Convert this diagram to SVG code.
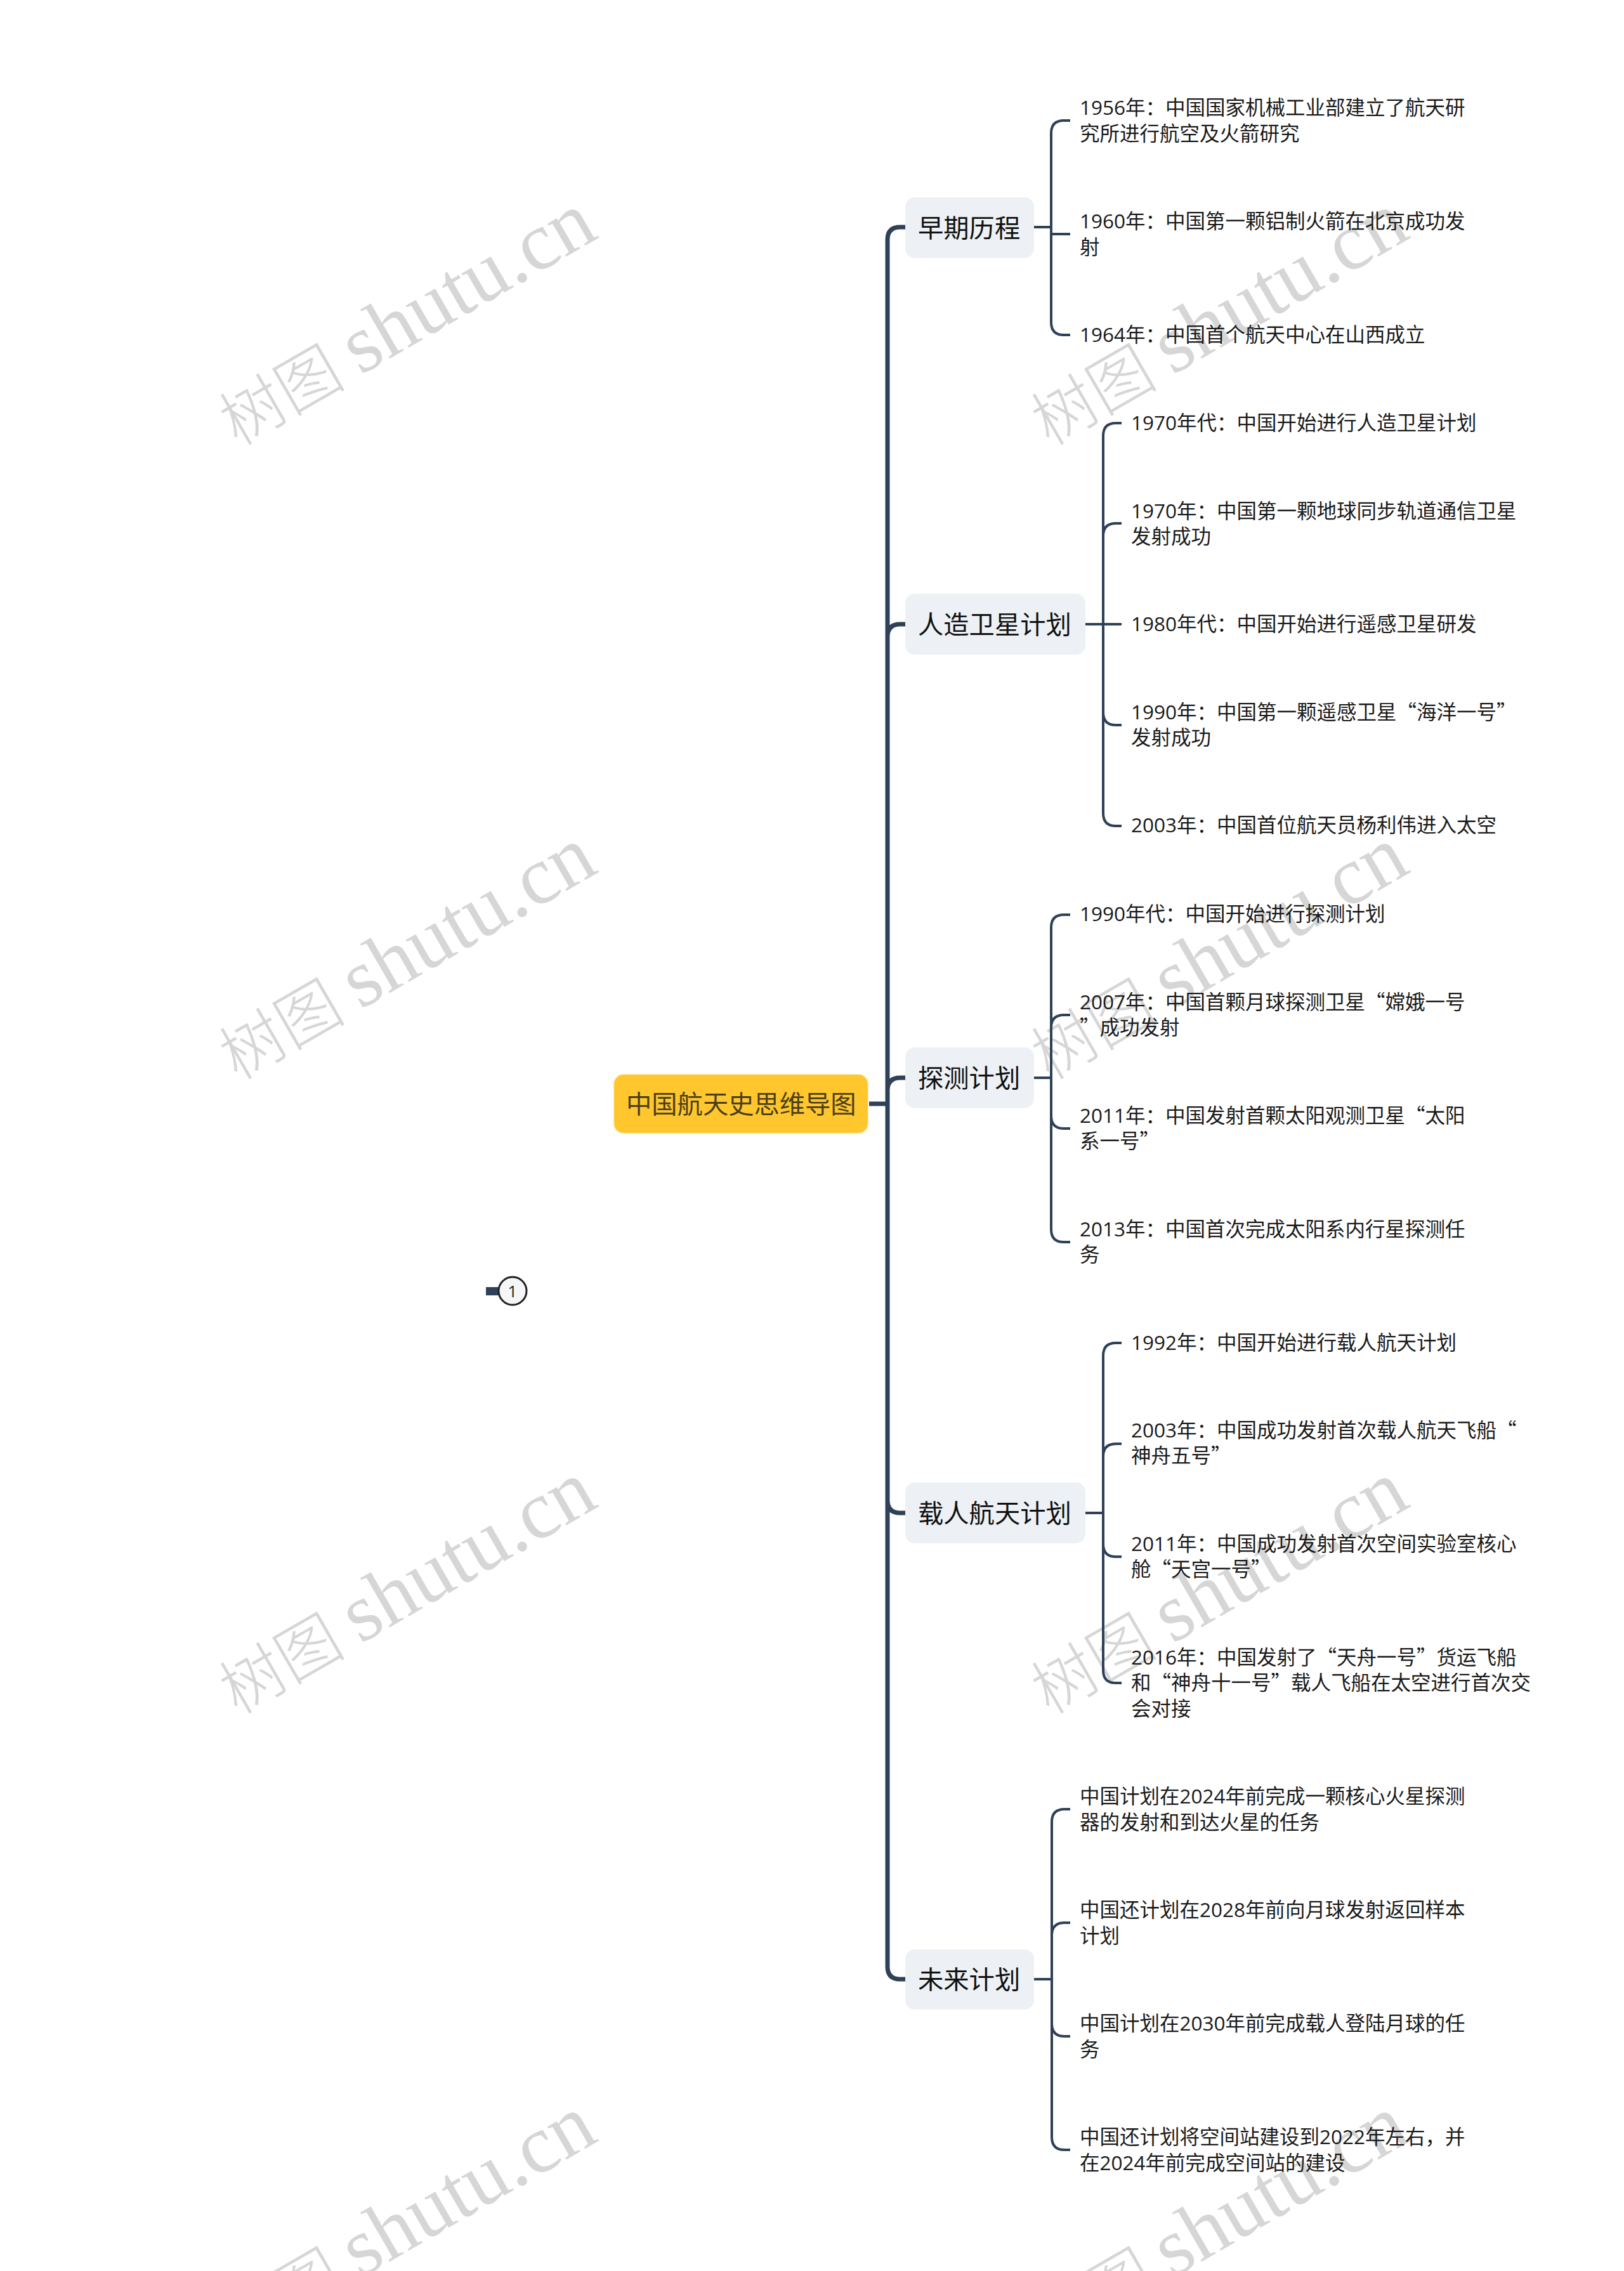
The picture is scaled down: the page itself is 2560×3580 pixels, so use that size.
<svg xmlns="http://www.w3.org/2000/svg" width="2560" height="3580" viewBox="0 0 2560 3580">
<style>
text{font-family:"Open Sans","Noto Sans CJK SC",sans-serif}
.wm{font-family:"Liberation Serif","Noto Sans CJK SC",serif;font-size:130px;fill:#d6d6d6}
.wc{font-family:"Noto Sans CJK SC",serif;font-size:100px;font-weight:300}
.q{font-family:"Noto Sans CJK SC",sans-serif}
.leaf{font-size:31.5px;fill:#1a1a1a}
.br{font-size:40.3px;fill:#111}
.brn{fill:#edf1f5}
.c{fill:none;stroke:#2f4159}
.t{stroke-width:7}
.s{stroke-width:4}
</style>
<rect width="2560" height="3580" fill="#fff"/>
<g id="watermarks">
<text class="wm" transform="translate(374 704) rotate(-30)"><tspan class="wc">树图</tspan><tspan dx="24">shutu.cn</tspan></text>
<text class="wm" transform="translate(374 1704) rotate(-30)"><tspan class="wc">树图</tspan><tspan dx="24">shutu.cn</tspan></text>
<text class="wm" transform="translate(374 2704) rotate(-30)"><tspan class="wc">树图</tspan><tspan dx="24">shutu.cn</tspan></text>
<text class="wm" transform="translate(374 3704) rotate(-30)"><tspan class="wc">树图</tspan><tspan dx="24">shutu.cn</tspan></text>
<text class="wm" transform="translate(1654 704) rotate(-30)"><tspan class="wc">树图</tspan><tspan dx="24">shutu.cn</tspan></text>
<text class="wm" transform="translate(1654 1704) rotate(-30)"><tspan class="wc">树图</tspan><tspan dx="24">shutu.cn</tspan></text>
<text class="wm" transform="translate(1654 2704) rotate(-30)"><tspan class="wc">树图</tspan><tspan dx="24">shutu.cn</tspan></text>
<text class="wm" transform="translate(1654 3704) rotate(-30)"><tspan class="wc">树图</tspan><tspan dx="24">shutu.cn</tspan></text>
</g>
<g id="connectors">
<path class="c t" d="M1368 1740H1399M1427 358H1419Q1399 358 1399 378V3100Q1399 3120 1419 3120H1427M1399 1004Q1399 984 1419 984H1427M1399 1719Q1399 1699 1419 1699H1427M1399 2365Q1399 2385 1419 2385H1427"/>
<path class="c s" d="M1630 358H1657M1687 190H1677Q1657 190 1657 210V508Q1657 528 1677 528H1687M1657 369H1687"/>
<path class="c s" d="M1710 984H1739M1768 667H1759Q1739 667 1739 687V1282Q1739 1302 1759 1302H1768M1739 845Q1739 825 1759 825H1768M1739 984H1768M1739 1123Q1739 1143 1759 1143H1768"/>
<path class="c s" d="M1630 1699H1657M1687 1442H1677Q1657 1442 1657 1462V1938Q1657 1958 1677 1958H1687M1657 1620Q1657 1600 1677 1600H1687M1657 1759Q1657 1779 1677 1779H1687"/>
<path class="c s" d="M1710 2385H1739M1768 2117H1759Q1739 2117 1739 2137V2633Q1739 2653 1759 2653H1768M1739 2296Q1739 2276 1759 2276H1768M1739 2434Q1739 2454 1759 2454H1768"/>
<path class="c s" d="M1630 3120H1658M1687 2852H1678Q1658 2852 1658 2872V3369Q1658 3389 1678 3389H1687M1658 3051Q1658 3031 1678 3031H1687M1658 3190Q1658 3210 1678 3210H1687"/>
</g>
<g id="root"><rect x="966" y="1692" width="404" height="96" rx="17" fill="#fdf6dc"/><rect x="968" y="1694" width="400" height="92" rx="15" fill="#ffc62e"/><text x="987" y="1755" font-size="40.3" fill="#4a3f1c">中国航天史思维导图</text></g>
<g id="collapse"><rect x="766" y="2029" width="24" height="13" fill="#2f4159"/><circle cx="808" cy="2035" r="22" fill="#f5f6f8" stroke="#222" stroke-width="3"/><text x="808" y="2045" font-size="26" text-anchor="middle" fill="#222">1</text></g>
<g id="b1"><rect class="brn" x="1427" y="311" width="203" height="96" rx="15"/><text class="br" x="1447" y="374">早期历程</text></g>
<g id="b2"><rect class="brn" x="1427" y="936" width="284" height="96" rx="15"/><text class="br" x="1447" y="999">人造卫星计划</text></g>
<g id="b3"><rect class="brn" x="1427" y="1651" width="203" height="96" rx="15"/><text class="br" x="1447" y="1714">探测计划</text></g>
<g id="b4"><rect class="brn" x="1427" y="2337" width="284" height="96" rx="15"/><text class="br" x="1447" y="2400">载人航天计划</text></g>
<g id="b5"><rect class="brn" x="1427" y="3073" width="203" height="95" rx="15"/><text class="br" x="1447" y="3135">未来计划</text></g>
<g id="l1-1"><text class="leaf" x="1702" y="181">1956年：中国国家机械工业部建立了航天研</text><text class="leaf" x="1702" y="222">究所进行航空及火箭研究</text></g>
<g id="l1-2"><text class="leaf" x="1702" y="360">1960年：中国第一颗铝制火箭在北京成功发</text><text class="leaf" x="1702" y="401">射</text></g>
<g id="l1-3"><text class="leaf" x="1702" y="539">1964年：中国首个航天中心在山西成立</text></g>
<g id="l2-1"><text class="leaf" x="1783" y="678">1970年代：中国开始进行人造卫星计划</text></g>
<g id="l2-2"><text class="leaf" x="1783" y="817">1970年：中国第一颗地球同步轨道通信卫星</text><text class="leaf" x="1783" y="857">发射成功</text></g>
<g id="l2-3"><text class="leaf" x="1783" y="995">1980年代：中国开始进行遥感卫星研发</text></g>
<g id="l2-4"><text class="leaf" x="1783" y="1134">1990年：中国第一颗遥感卫星<tspan class="q">“</tspan>海洋一号<tspan class="q">”</tspan></text><text class="leaf" x="1783" y="1174">发射成功</text></g>
<g id="l2-5"><text class="leaf" x="1783" y="1312">2003年：中国首位航天员杨利伟进入太空</text></g>
<g id="l3-1"><text class="leaf" x="1702" y="1452">1990年代：中国开始进行探测计划</text></g>
<g id="l3-2"><text class="leaf" x="1702" y="1591">2007年：中国首颗月球探测卫星<tspan class="q">“</tspan>嫦娥一号</text><text class="leaf" x="1702" y="1631"><tspan class="q">”</tspan>成功发射</text></g>
<g id="l3-3"><text class="leaf" x="1702" y="1770">2011年：中国发射首颗太阳观测卫星<tspan class="q">“</tspan>太阳</text><text class="leaf" x="1702" y="1810">系一号<tspan class="q">”</tspan></text></g>
<g id="l3-4"><text class="leaf" x="1702" y="1949">2013年：中国首次完成太阳系内行星探测任</text><text class="leaf" x="1702" y="1989">务</text></g>
<g id="l4-1"><text class="leaf" x="1783" y="2128">1992年：中国开始进行载人航天计划</text></g>
<g id="l4-2"><text class="leaf" x="1783" y="2266">2003年：中国成功发射首次载人航天飞船<tspan class="q">“</tspan></text><text class="leaf" x="1783" y="2306">神舟五号<tspan class="q">”</tspan></text></g>
<g id="l4-3"><text class="leaf" x="1783" y="2445">2011年：中国成功发射首次空间实验室核心</text><text class="leaf" x="1783" y="2485">舱<tspan class="q">“</tspan>天宫一号<tspan class="q">”</tspan></text></g>
<g id="l4-4"><text class="leaf" x="1783" y="2624">2016年：中国发射了<tspan class="q">“</tspan>天舟一号<tspan class="q">”</tspan>货运飞船</text><text class="leaf" x="1783" y="2664">和<tspan class="q">“</tspan>神舟十一号<tspan class="q">”</tspan>载人飞船在太空进行首次交</text><text class="leaf" x="1783" y="2705">会对接</text></g>
<g id="l5-1"><text class="leaf" x="1702" y="2843">中国计划在2024年前完成一颗核心火星探测</text><text class="leaf" x="1702" y="2884">器的发射和到达火星的任务</text></g>
<g id="l5-2"><text class="leaf" x="1702" y="3022">中国还计划在2028年前向月球发射返回样本</text><text class="leaf" x="1702" y="3063">计划</text></g>
<g id="l5-3"><text class="leaf" x="1702" y="3201">中国计划在2030年前完成载人登陆月球的任</text><text class="leaf" x="1702" y="3242">务</text></g>
<g id="l5-4"><text class="leaf" x="1702" y="3380">中国还计划将空间站建设到2022年左右，并</text><text class="leaf" x="1702" y="3421">在2024年前完成空间站的建设</text></g>
</svg>
